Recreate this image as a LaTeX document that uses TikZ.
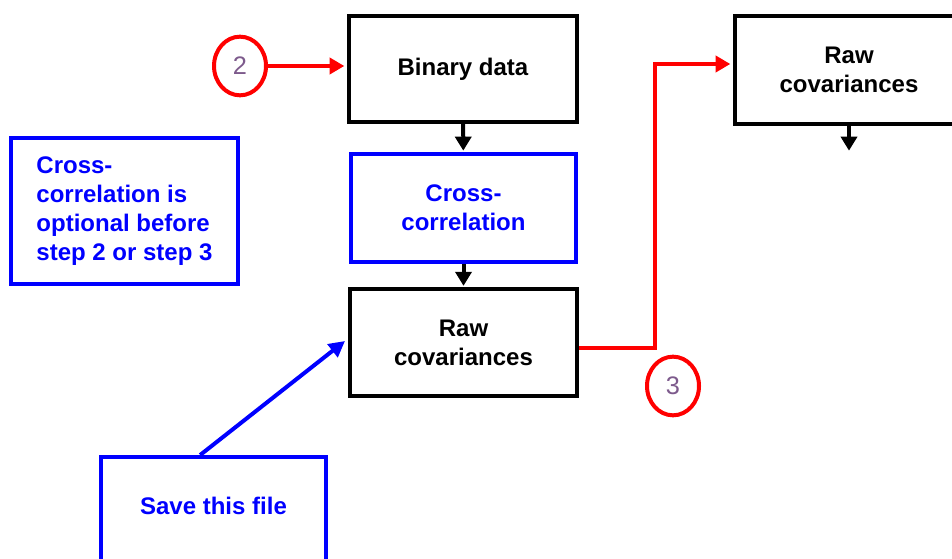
\documentclass[tikz,border=0pt]{standalone}
\usepackage{fontspec}
\setmainfont{Liberation Sans}
\usetikzlibrary{arrows.meta, shapes.geometric}
\definecolor{numgray}{RGB}{125,90,140}

\begin{document}
\begin{tikzpicture}[x=0.75pt,y=-0.75pt,
        font=\fontsize{18}{21.75}\selectfont\bfseries,
        box/.style={draw,line width=3pt,align=center,inner sep=2pt},
        bluebox/.style={box,draw=blue,text=blue},
        stepnum/.style={draw=red,ellipse,line width=3pt,inner sep=0pt,minimum width=39pt,minimum height=44pt,text=numgray,font=\fontsize{19}{19}\selectfont},
        blkarrow/.style={line width=3pt,-{Triangle[length=10.5pt,width=12pt]},shorten >=1pt},
        redarrow/.style={red,line width=3pt,-{Triangle[length=11pt,width=12pt]},shorten >=2pt},
        bluearrow/.style={blue,line width=3pt,-{Triangle[length=12pt,width=12pt]},shorten >=3pt}]
    \useasboundingbox (0,0) rectangle (952,559);
    \node[box,minimum width=171pt,minimum height=79.5pt] (bin) at (463,69) {Binary data};
    \node[bluebox,minimum width=169pt,minimum height=81pt] (cross) at (463.5,208) {Cross-\\correlation};
    \node[box,minimum width=170pt,minimum height=80pt] (raw) at (463.5,342.5) {Raw\\covariances};
    \node[box,minimum width=171pt,minimum height=81pt] (rawb) at (849,70) {Raw\\covariances};
    \node[bluebox,minimum width=170pt,minimum height=109.5pt,align=left] (note) at (124.5,211) {Cross-\\correlation is\\optional before\\step 2 or step 3};
    \node[bluebox,minimum width=169pt,minimum height=90pt,anchor=north,text height=14pt,text depth=18pt] (save) at (213.5,455) {Save this file};
    \node[stepnum] (two) at (240,66) {2};
    \node[stepnum] (three) at (673,386) {3};
    \coordinate (down) at (849,152);
    \draw[blkarrow] (bin) -- (cross);
    \draw[blkarrow] (cross) -- (raw);
    \draw[blkarrow] (rawb) -- (down);
    \draw[redarrow] (two) -- (two -| bin.west);
    \draw[redarrow] ([yshift=-4pt]raw.east) -- ++(76,0) |- ([yshift=4.5pt]rawb.west);
    \draw[bluearrow] ([xshift=-10pt]save.north) -- ([yshift=3pt]raw.west);
\end{tikzpicture}
\end{document}
